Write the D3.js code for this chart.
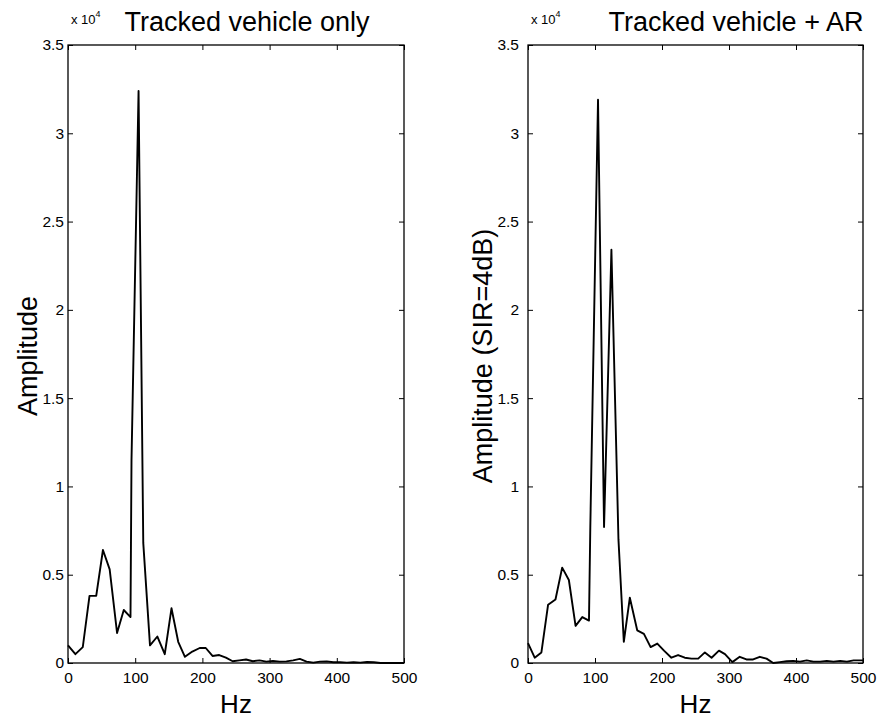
<!DOCTYPE html>
<html>
<head>
<meta charset="utf-8">
<script src="https://cdn.jsdelivr.net/npm/d3@7"></script>
<style>
  body { margin: 0; background: #fff; }
  text { font-family: "Liberation Sans", Arial, Helvetica, sans-serif; fill: #000; }
</style>
</head>
<body>
<div id="chart"></div>
<script>
const WIDTH = 880, HEIGHT = 721;

// left panel: tracked vehicle only
const hzTracked = [0, 11, 22, 32, 42, 52, 62, 73, 83, 93, 94.5, 105, 112, 122, 133, 144, 154, 164, 174, 185,
  196, 205, 215, 225, 235, 245, 255, 265, 275, 285, 295, 305, 315, 325, 335, 345, 355, 365, 375, 385,
  395, 405, 415, 425, 435, 445, 455, 465, 475, 485, 495, 500];
const ampTracked = [1000, 500, 900, 3800, 3800, 6400, 5300, 1700, 3000, 2600, 11500, 32400, 6800, 1000, 1500, 500, 3100, 1200, 350, 650,
  850, 850, 400, 450, 300, 100, 150, 200, 100, 150, 80, 110, 80, 90, 150, 230, 80, 20, 80, 90,
  40, 40, 20, 40, 20, 60, 40, 0, 0, 0, 0, 0];

// right panel: tracked vehicle + AR
const hzMixed = [0, 10, 20, 30, 41, 51, 61, 71, 81, 91, 93, 104.5, 113.5, 124.5, 135, 143, 152, 163, 173, 183,
  193, 203, 214, 224, 234, 244, 254, 264, 274, 285, 294, 305, 316, 326, 336, 346, 356, 366, 376, 386,
  396, 406, 416, 426, 436, 446, 456, 466, 476, 486, 496, 500];
const ampMixed = [1130, 300, 600, 3300, 3600, 5400, 4700, 2100, 2600, 2400, 7700, 31900, 7700, 23400, 7000, 1200, 3700, 1850, 1650, 900,
  1100, 700, 300, 450, 300, 250, 250, 600, 300, 700, 500, 50, 350, 200, 200, 350, 250, 0, 50, 100,
  120, 80, 150, 80, 80, 120, 80, 120, 80, 150, 150, 150];

const xTicks = [0, 100, 200, 300, 400, 500];
const yTicks = [0, 5000, 10000, 15000, 20000, 25000, 30000, 35000];
const yScaleExp = 4;

const svg = d3.select("#chart").append("svg")
  .attr("width", WIDTH)
  .attr("height", HEIGHT);

function drawPanel(p) {
  const x = d3.scaleLinear().domain([0, 500]).range([p.left, p.right]);
  const y = d3.scaleLinear().domain([0, 35000]).range([663, 45]);
  const g = svg.append("g");
  const fmt = d => d3.format("~g")(d / Math.pow(10, yScaleExp));

  g.append("g")
    .attr("transform", "translate(0,663)")
    .call(d3.axisBottom(x).tickValues(xTicks).tickSizeInner(-5).tickSizeOuter(0).tickPadding(9))
    .call(a => a.selectAll("text").attr("font-size", 15.5));
  g.append("g")
    .attr("transform", "translate(0,45)")
    .call(d3.axisTop(x).tickValues(xTicks).tickSizeInner(-5).tickSizeOuter(0).tickFormat(""));
  g.append("g")
    .attr("transform", `translate(${p.left},0)`)
    .call(d3.axisLeft(y).tickValues(yTicks).tickSizeInner(-5).tickSizeOuter(0).tickPadding(p.pad).tickFormat(fmt))
    .call(a => a.selectAll("text").attr("font-size", 15.5));
  g.append("g")
    .attr("transform", `translate(${p.right},0)`)
    .call(d3.axisRight(y).tickValues(yTicks).tickSizeInner(-5).tickSizeOuter(0).tickFormat(""));
  g.selectAll(".domain").remove();
  g.selectAll(".tick line").attr("stroke", "#000");

  g.append("rect")
    .attr("x", p.left).attr("y", 45)
    .attr("width", p.right - p.left).attr("height", 618)
    .attr("fill", "none").attr("stroke", "#000").attr("stroke-width", 1.3);

  const line = d3.line().x(d => x(d[0])).y(d => y(d[1]));
  g.append("path")
    .datum(p.hz.map((h, i) => [h, p.amp[i]]))
    .attr("d", line)
    .attr("fill", "none")
    .attr("stroke", "#000")
    .attr("stroke-width", 1.9)
    .attr("stroke-linejoin", "round");

  // exponent label
  const ex = g.append("text").attr("x", p.left + 3).attr("y", 24).attr("font-size", 13);
  ex.append("tspan").text("x 10");
  ex.append("tspan").attr("dy", -7).attr("font-size", 9).text(yScaleExp);

  g.append("text")
    .attr("x", p.titleX).attr("y", 31)
    .attr("text-anchor", "middle")
    .attr("font-size", 27)
    .text(p.title);

  g.append("text")
    .attr("x", (p.left + p.right) / 2).attr("y", 713)
    .attr("text-anchor", "middle")
    .attr("font-size", 26)
    .text("Hz");

  g.append("text")
    .attr("transform", `translate(${p.labelX},356) rotate(-90)`)
    .attr("text-anchor", "middle")
    .attr("font-size", 27)
    .text(p.ylabel);
}

drawPanel({ left: 68, right: 404, hz: hzTracked, amp: ampTracked, pad: 4,
  title: "Tracked vehicle only", titleX: 247, ylabel: "Amplitude", labelX: 37 });
drawPanel({ left: 528, right: 863, hz: hzMixed, amp: ampMixed, pad: 9,
  title: "Tracked vehicle + AR", titleX: 736, ylabel: "Amplitude (SIR=4dB)", labelX: 492 });
</script>
</body>
</html>
